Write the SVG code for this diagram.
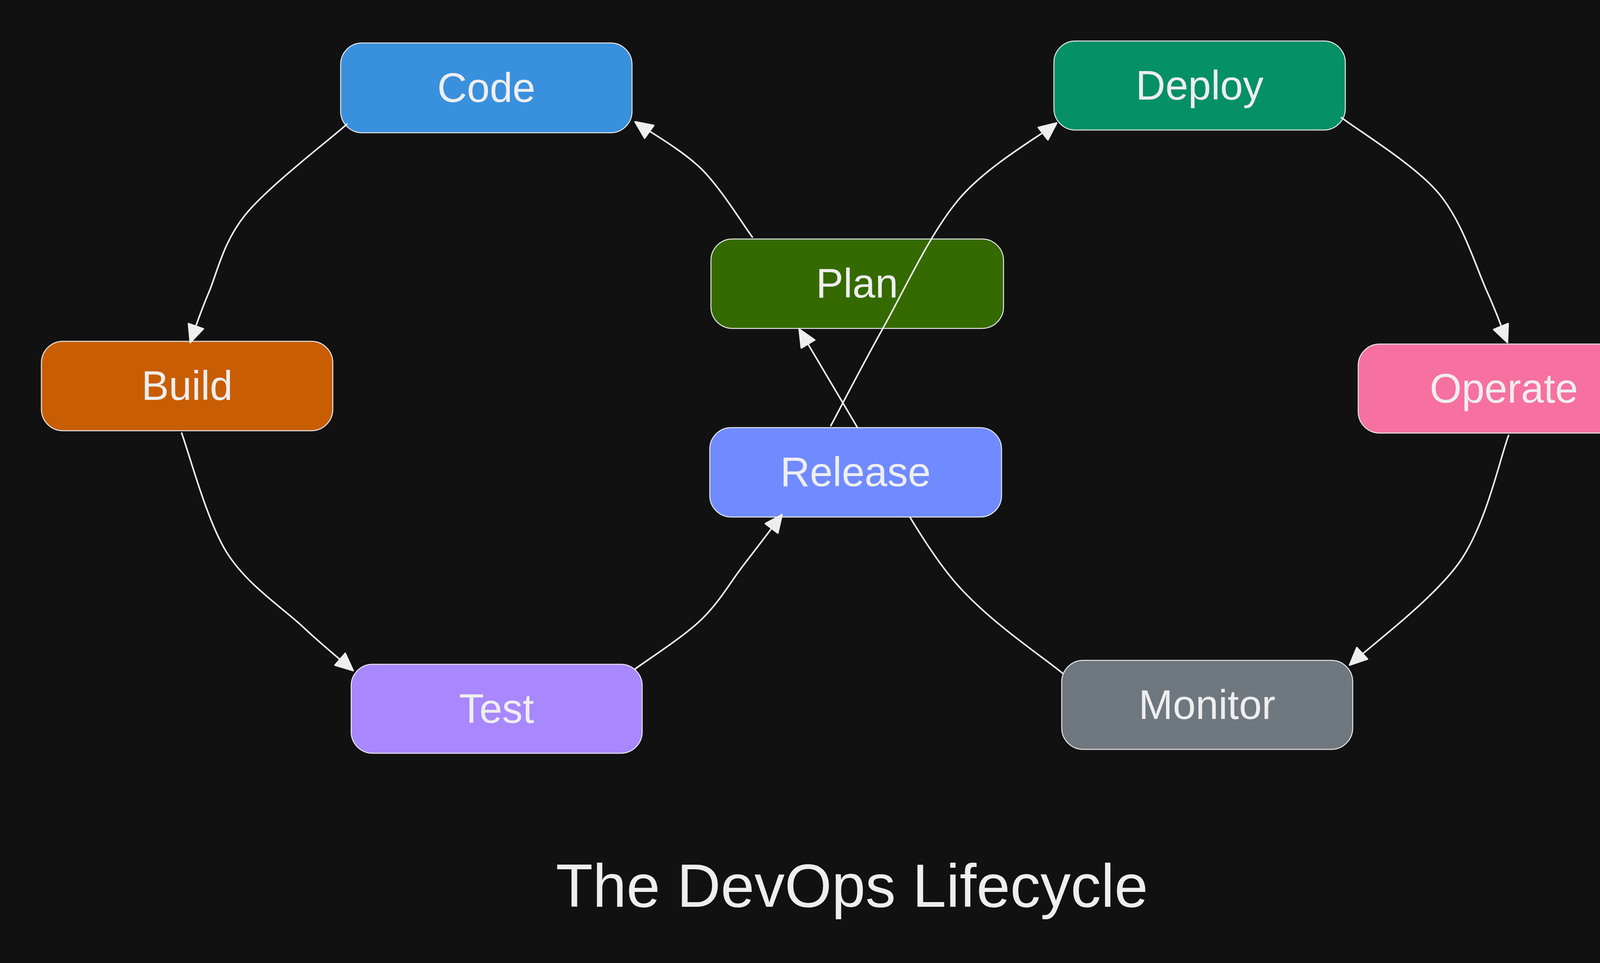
<svg xmlns="http://www.w3.org/2000/svg" width="4329" height="2466" viewBox="0 0 4329 2466">
<style>
.box{stroke:#e8e8e8;stroke-width:2.5}
.lbl{font-family:"Liberation Sans",Arial,sans-serif;font-size:105px;fill:#eeeeee;text-anchor:middle}
.title{font-family:"Liberation Sans",Arial,sans-serif;font-size:155px;fill:#eeeeee;text-anchor:middle}
.edge{fill:none;stroke:#eeeeee;stroke-width:4;stroke-linecap:round;marker-end:url(#arrow)}
</style>
<defs>
<marker id="arrow" markerUnits="userSpaceOnUse" viewBox="-4 -4 56 52" markerWidth="56" markerHeight="52" refX="44" refY="20" orient="auto">
<path d="M0 0 L44 20 L0 40 Z" fill="#eeeeee" stroke="#eeeeee" stroke-width="4" stroke-linejoin="round"/>
</marker>
<mask id="behindRelease" maskUnits="userSpaceOnUse" x="0" y="0" width="4329" height="2466">
<rect x="0" y="0" width="4329" height="2466" fill="#fff"/>
<rect x="1817" y="1095" width="747" height="229" rx="55" fill="#000"/>
</mask>
</defs>
<rect x="0" y="0" width="4329" height="2466" fill="#111111"/>

<g id="node-code"><rect class="box" x="872" y="110" width="746" height="230" rx="55" fill="#3990dd"/><text class="lbl" x="1245" y="261">Code</text></g>
<g id="node-build"><rect class="box" x="106" y="874" width="746" height="229" rx="55" fill="#c95d03"/><text class="lbl" x="479" y="1024">Build</text></g>
<g id="node-plan"><rect class="box" x="1820" y="612" width="749" height="229" rx="55" fill="#346a00"/><text class="lbl" x="2194" y="762">Plan</text></g>
<g id="node-release"><rect class="box" x="1817" y="1095" width="747" height="229" rx="55" fill="#708bff"/><text class="lbl" x="2190" y="1245">Release</text></g>
<g id="node-test"><rect class="box" x="899" y="1701" width="745" height="228" rx="55" fill="#a887ff"/><text class="lbl" x="1271" y="1851">Test</text></g>
<g id="node-deploy"><rect class="box" x="2698" y="105" width="746" height="228" rx="55" fill="#059066"/><text class="lbl" x="3071" y="255">Deploy</text></g>
<g id="node-operate"><rect class="box" x="3477" y="881" width="747" height="228" rx="55" fill="#f670a0"/><text class="lbl" x="3850" y="1031">Operate</text></g>
<g id="node-monitor"><rect class="box" x="2718" y="1691" width="745" height="228" rx="55" fill="#6f777f"/><text class="lbl" x="3090" y="1841">Monitor</text></g>

<g id="connectors">
<path id="e-code-build" class="edge" d="M888 318 C845 357 687 477 628 550 C569 623 556 701 532 755 C509 810 494 857 487 877"/>
<path id="e-build-test" class="edge" d="M465 1109 C484 1160 529 1332 580 1414 C631 1496 719 1553 773 1603 C827 1654 882 1698 904 1717"/>
<path id="e-test-release" class="edge" d="M1626 1713 C1654 1692 1748 1632 1795 1587 C1842 1542 1870 1490 1905 1445 C1940 1400 1986 1339 2002 1318"/>
<path id="e-release-deploy" class="edge" d="M2127 1090 C2149 1049 2205 940 2259 843 C2313 747 2380 599 2454 511 C2528 423 2663 348 2705 315"/>
<path id="e-deploy-operate" class="edge" d="M3434 301 C3475 333 3621 421 3683 495 C3745 569 3778 683 3807 747 C3836 811 3850 855 3859 877"/>
<path id="e-operate-monitor" class="edge" d="M3862 1115 C3841 1169 3806 1339 3738 1437 C3670 1535 3502 1659 3455 1703"/>
<path id="e-monitor-plan" class="edge" mask="url(#behindRelease)" d="M2720 1724 C2673 1684 2528 1590 2440 1485 C2352 1380 2260 1200 2194 1093 C2128 983 2071 885 2046 843"/>
<path id="e-plan-code" class="edge" d="M1926 607 C1904 578 1845 481 1795 432 C1745 383 1654 332 1626 312"/>
</g>

<text id="title" class="title" x="2181" y="2322">The DevOps Lifecycle</text>
</svg>
